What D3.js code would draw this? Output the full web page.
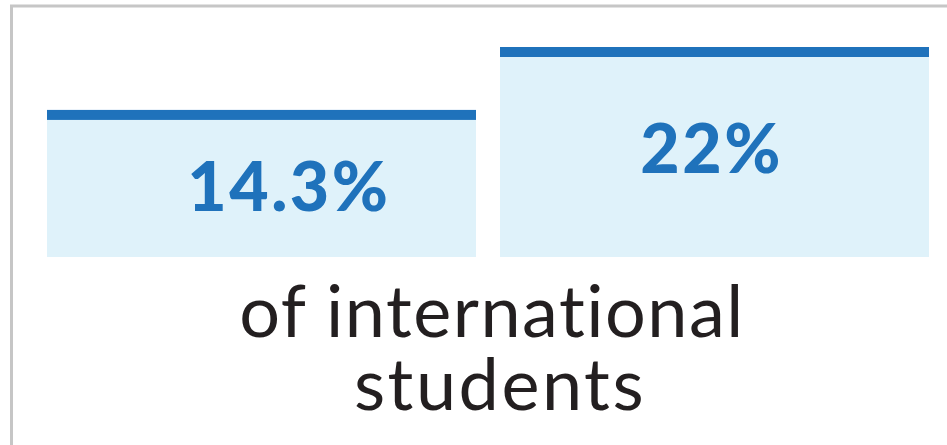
<!DOCTYPE html>
<html>
<head>
<meta charset="utf-8">
<script src="https://cdn.jsdelivr.net/npm/d3@7"></script>
<style>
  html, body { margin: 0; padding: 0; background: #fff; }
  svg { display: block; }
  text { font-variant-ligatures: none; }
</style>
</head>
<body>
<svg id="chart" width="947" height="445"></svg>
<script>
// data
var categories = ['a', 'b'];
var values = [14.3, 22];
var valueLabels = ['14.3%', '22%'];
var captionLines = ['of international', 'students'];

var width = 947, height = 445;
var svg = d3.select('#chart');

// frame (only top and left edges show in the crop)
svg.append('path')
    .attr('d', 'M11.5 ' + height + ' L11.5 6 L' + width + ' 6')
    .attr('fill', 'none')
    .attr('stroke', '#c6c6c6')
    .attr('stroke-width', 3);

var x = d3.scaleBand()
    .domain(categories)
    .range([47, 929])
    .paddingInner(0.053);

var y = d3.scaleLinear()
    .domain([-3.7, 22])
    .range([257, 47]);

var bars = svg.selectAll('.bar')
    .data(values)
    .enter().append('g')
    .attr('class', 'bar');

bars.append('rect')
    .attr('x', function (d, i) { return x(categories[i]); })
    .attr('y', function (d) { return y(d); })
    .attr('width', x.bandwidth())
    .attr('height', function (d) { return y(-3.7) - y(d); })
    .attr('fill', '#dff2fa');

bars.append('rect')
    .attr('x', function (d, i) { return x(categories[i]); })
    .attr('y', function (d) { return y(d); })
    .attr('width', x.bandwidth())
    .attr('height', 10)
    .attr('fill', '#1f72bb');

bars.append('text')
    .attr('x', function (d, i) { return x(categories[i]) + x.bandwidth() * 0.327; })
    .attr('y', function (d) { return 0.6 * y(d) + 145; })
    .attr('fill', '#1f72bb')
    .attr('font-family', 'Lato, sans-serif')
    .attr('font-weight', 900)
    .attr('font-size', 68)
    .attr('letter-spacing', 2.5)
    .text(function (d, i) { return valueLabels[i]; });

// caption as one text block with a line per tspan
var caption = svg.append('text')
    .attr('class', 'caption')
    .attr('y', 337)
    .attr('text-anchor', 'middle')
    .attr('fill', '#231f20')
    .attr('font-family', 'Lato, sans-serif')
    .attr('font-size', 72)
    .attr('letter-spacing', 1.5);

caption.selectAll('tspan')
    .data(captionLines)
    .enter().append('tspan')
    .attr('x', function (d, i) { return i === 0 ? 492 : 500; })
    .attr('dy', function (d, i) { return i === 0 ? 0 : 73; })
    .attr('letter-spacing', function (d, i) { return i === 0 ? 1.5 : 2.5; })
    .text(function (d) { return d; });
</script>
</body>
</html>
